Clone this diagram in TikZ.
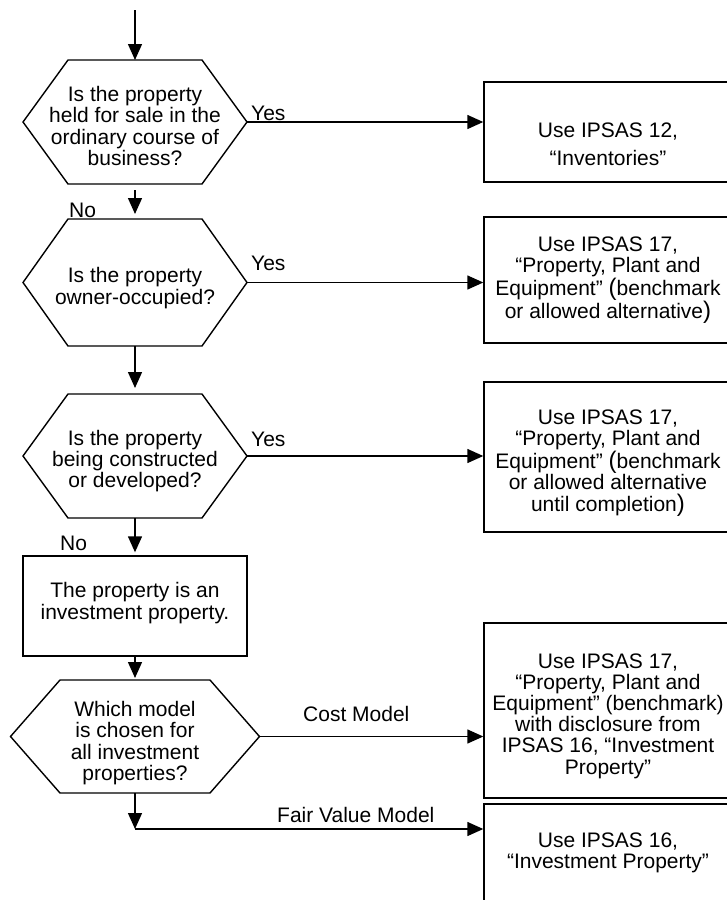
\documentclass[tikz,border=0pt]{standalone}
\usepackage{fontspec}
\setmainfont{Liberation Sans}
\usetikzlibrary{arrows.meta,calc}
\newcommand\bigpar[1]{{\fontsize{24}{21}\selectfont #1}}
\tikzset{
  frame/.style={draw, line width=1.4pt, inner sep=0pt},
  hexcore/.style={inner sep=0pt, outer sep=0pt},
  hexline/.style={line width=1.4pt, line join=miter},
  txt/.style={align=center, inner sep=0pt, font=\fontsize{21}{21.2}\selectfont},
  lbl/.style={inner sep=0pt, font=\fontsize{21}{21}\selectfont, anchor=base west},
  arr/.style={line width=1.4pt, -{Triangle[length=16pt,width=14pt]}},
  ln/.style={line width=1.4pt}
}
\begin{document}
\begin{tikzpicture}[x=1pt,y=-1pt]
\useasboundingbox (0,0) rectangle (727,900);
\clip (0,0) rectangle (727,900);

% ---- hexagon 1
\node[hexcore, minimum width=134pt, minimum height=124pt] (h1) at (135,122) {};
\coordinate (h1r) at ($(h1.east)+(45,0)$);
\coordinate (h1l) at ($(h1.west)+(-45,0)$);
\draw[hexline] (h1.north west) -- (h1.north east) -- (h1r) -- (h1.south east) -- (h1.south west) -- (h1l) -- cycle;
\node[txt] (h1t) at (135,126) {Is the property\\held for sale in the\\ordinary course of\\business?};

% ---- hexagon 2
\node[hexcore, minimum width=134pt, minimum height=127pt] (h2) at (135,282.5) {};
\coordinate (h2r) at ($(h2.east)+(45,0)$);
\coordinate (h2l) at ($(h2.west)+(-45,0)$);
\draw[hexline] (h2.north west) -- (h2.north east) -- (h2r) -- (h2.south east) -- (h2.south west) -- (h2l) -- cycle;
\node[txt] (h2t) at (135,288) {Is the property\\owner-occupied?};

% ---- hexagon 3
\node[hexcore, minimum width=134pt, minimum height=124pt] (h3) at (135,456) {};
\coordinate (h3r) at ($(h3.east)+(45,0)$);
\coordinate (h3l) at ($(h3.west)+(-45,0)$);
\draw[hexline] (h3.north west) -- (h3.north east) -- (h3r) -- (h3.south east) -- (h3.south west) -- (h3l) -- cycle;
\node[txt] (h3t) at (135,461) {Is the property\\being constructed\\or developed?};

% ---- box 4
\node[frame, minimum width=224pt, minimum height=100pt] (b4) at (135,606) {};
\node[txt] (b4t) at (135,603) {The property is an\\investment property.};

% ---- hexagon 5
\node[hexcore, minimum width=150pt, minimum height=113pt] (h5) at (135,736.5) {};
\coordinate (h5r) at ($(h5.east)+(49.5,0)$);
\coordinate (h5l) at ($(h5.west)+(-49.5,0)$);
\draw[hexline] (h5.north west) -- (h5.north east) -- (h5r) -- (h5.south east) -- (h5.south west) -- (h5l) -- cycle;
\node[txt] (h5t) at (135,743) {Which model\\is chosen for\\all investment\\properties?};

% ---- right boxes
\node[frame, minimum width=248pt, minimum height=100pt] (b1) at (608,132) {};
\node[txt, font=\fontsize{21}{28}\selectfont] (b1t) at (608,144) {Use IPSAS 12,\\“Inventories”};

\node[frame, minimum width=248pt, minimum height=126pt] (b2) at (608,280) {};
\node[txt] (b2t) at (608,280) {Use IPSAS 17,\\“Property, Plant and\\Equipment” \bigpar{(}benchmark\\or allowed alternative\bigpar{)}};

\node[frame, minimum width=248pt, minimum height=150pt] (b3) at (608,457) {};
\node[txt] (b3t) at (608,463) {Use IPSAS 17,\\“Property, Plant and\\Equipment” \bigpar{(}benchmark\\or allowed alternative\\until completion\bigpar{)}};

\node[frame, minimum width=248pt, minimum height=175pt] (b5) at (608,710.5) {};
\node[txt] (b5t) at (608,716) {Use IPSAS 17,\\“Property, Plant and\\Equipment” (benchmark)\\with disclosure from\\IPSAS 16, “Investment\\Property”};

\node[frame, minimum width=248pt, minimum height=116pt] (b6) at (608,862) {};
\node[txt] (b6t) at (608,853) {Use IPSAS 16,\\“Investment Property”};

% ---- connectors
\coordinate (start) at (135,10);
\coordinate (c5) at (135,829);
\draw[arr] (start) -- (h1.north);
\draw[arr, shorten <=6pt, shorten >=5pt] (h1.south) -- (h2.north);
\draw[arr, shorten >=6pt] (h2.south) -- (h3.north);
\draw[arr, shorten >=3pt] (h3.south) -- (b4.north);
\draw[arr, shorten >=2pt] (b4.south) -- (h5.north);
\draw[arr] (h5.south) -- (c5);
\draw[arr] (h1r) -- (h1r -| b1.west);
\draw[arr] (h2r) -- (h2r -| b2.west);
\draw[arr] (h3r) -- (h3r -| b3.west);
\draw[arr] (h5r) -- (h5r -| b5.west);
\draw[arr] (c5) -- (c5 -| b6.west);

% ---- labels
\node[lbl] (yes1) at (251,120) {Yes};
\node[lbl] (no1) at (69,217) {No};
\node[lbl] (yes2) at (251,270) {Yes};
\node[lbl] (yes3) at (251,446) {Yes};
\node[lbl] (no3) at (60,550) {No};
\node[lbl] (cost) at (303,721) {Cost Model};
\node[lbl] (fair) at (277,822) {Fair Value Model};
\end{tikzpicture}
\end{document}
